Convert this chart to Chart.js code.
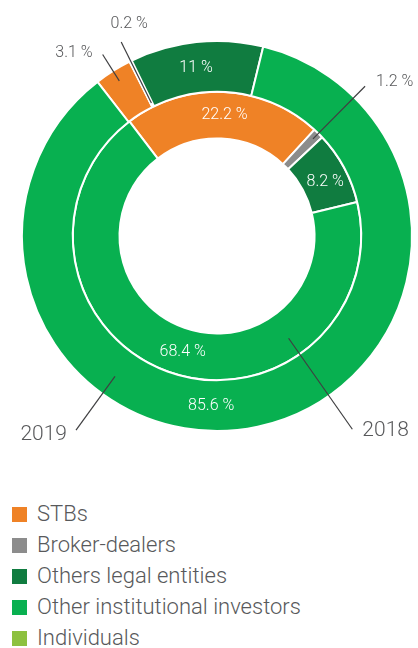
<!DOCTYPE html>
<html>
<head>
<meta charset="utf-8">
<script src="https://cdn.jsdelivr.net/npm/chart.js@4"></script>
<style>
  html, body { margin: 0; padding: 0; background: #fff; }
  body { width: 418px; height: 648px; position: relative; overflow: hidden; font-family: Roboto, 'Noto Sans', sans-serif; }
  #wrap { position: absolute; left: 0; top: 0; width: 418px; height: 470px; }
  #legend { position: absolute; left: 12px; top: 498px; margin: 0; padding: 0; list-style: none; }
  #legend li { height: 31px; line-height: 31px; font-size: 22px; font-weight: 300; color: #58595b; white-space: nowrap; }
  #legend span { display: inline-block; width: 15px; height: 15px; margin-right: 10px; vertical-align: -1px; }
</style>
</head>
<body>
<div id="wrap"><canvas id="ownershipChart"></canvas></div>
<ul id="legend"></ul>
<script>
const categories = ['STBs', 'Broker-dealers', 'Others legal entities', 'Other institutional investors', 'Individuals'];
const colors = ['#ef8226', '#8c8c8c', '#107c40', '#08b050', '#8dc13f'];
const years = ['2019', '2018'];
const shares2019 = [3.1, 0.2, 11, 85.6, 0];
const shares2018 = [22.2, 1.2, 8.2, 68.4, 0];

// segment labels drawn inside the rings (ring 0 = outer / 2019, ring 1 = inner / 2018)
const insideLabels = [
  { ring: 0, index: 2, shift: -1 },
  { ring: 0, index: 3, shift: 14 },
  { ring: 1, index: 0, shift: 1 },
  { ring: 1, index: 2, shift: 2 },
  { ring: 1, index: 3, shift: -3 },
];

// small segments get a radial leader line out of the ring
const calloutLabels = [
  { ring: 0, index: 0, from: 0.94, to: 1.10, dx: -10, dy: -2, align: 'right' },
  { ring: 0, index: 1, from: 0.76, to: 1.11, dx: 8, dy: -18, align: 'center' },
  { ring: 1, index: 1, from: 0.70, to: 1.08, dx: 11, dy: -4, align: 'left' },
];

// year captions, angle in degrees clockwise from the top
const yearLabels = [
  { text: years[0], angle: 216, from: 0.89, to: 1.23, dx: -9, dy: 5, align: 'right' },
  { text: years[1], angle: 145, from: 0.64, to: 1.21, dx: 10, dy: 1, align: 'left' },
];

function formatShare(value) {
  return `${value} %`;
}

function midAngle(arc) {
  return (arc.startAngle + arc.endAngle) / 2;
}

function drawLeader(ctx, cx, cy, angle, r0, r1, text, dx, dy, align, font) {
  ctx.strokeStyle = '#3f3f41';
  ctx.lineWidth = 1.2;
  ctx.beginPath();
  ctx.moveTo(cx + r0 * Math.cos(angle), cy + r0 * Math.sin(angle));
  const ex = cx + r1 * Math.cos(angle);
  const ey = cy + r1 * Math.sin(angle);
  ctx.lineTo(ex, ey);
  ctx.stroke();
  ctx.font = font;
  ctx.fillStyle = '#58595b';
  ctx.textAlign = align;
  ctx.textBaseline = 'middle';
  ctx.fillText(text, ex + dx, ey + dy);
}

const ringLabels = {
  id: 'ringLabels',
  afterDatasetsDraw(chart) {
    const ctx = chart.ctx;
    const outer = chart.getDatasetMeta(0).data;
    const cx = outer[0].x;
    const cy = outer[0].y;
    const radius = outer[0].outerRadius;
    ctx.save();

    ctx.font = '300 16px Roboto';
    ctx.fillStyle = '#ffffff';
    ctx.textAlign = 'center';
    ctx.textBaseline = 'middle';
    insideLabels.forEach(item => {
      const arc = chart.getDatasetMeta(item.ring).data[item.index];
      const angle = midAngle(arc) + item.shift * Math.PI / 180;
      const r = (arc.innerRadius + arc.outerRadius) / 2;
      const value = chart.data.datasets[item.ring].data[item.index];
      ctx.fillText(formatShare(value), cx + r * Math.cos(angle), cy + r * Math.sin(angle));
    });

    calloutLabels.forEach(item => {
      const arc = chart.getDatasetMeta(item.ring).data[item.index];
      const value = chart.data.datasets[item.ring].data[item.index];
      drawLeader(ctx, cx, cy, midAngle(arc), item.from * radius, item.to * radius,
        formatShare(value), item.dx, item.dy, item.align, '300 16px Roboto');
    });

    yearLabels.forEach(item => {
      const angle = (item.angle - 90) * Math.PI / 180;
      drawLeader(ctx, cx, cy, angle, item.from * radius, item.to * radius,
        item.text, item.dx, item.dy, item.align, '300 21px Roboto');
    });

    ctx.restore();
  },
};

const chart = new Chart(document.getElementById('ownershipChart').getContext('2d'), {
  type: 'doughnut',
  data: {
    labels: categories,
    datasets: [
      {
        label: years[0],
        data: shares2019,
        backgroundColor: colors,
        borderColor: '#ffffff',
        borderWidth: 2,
        rotation: -37.8,
        weight: 51,
      },
      {
        label: years[1],
        data: shares2018,
        backgroundColor: colors,
        borderColor: '#ffffff',
        borderWidth: 2,
        rotation: -37.4,
        weight: 47,
      },
    ],
  },
  options: {
    responsive: true,
    maintainAspectRatio: false,
    animation: false,
    cutout: '50%',
    layout: { padding: { left: 21, right: 5, top: 40, bottom: 38 } },
    events: [],
    plugins: {
      legend: { display: false },
      tooltip: { enabled: false },
    },
  },
  plugins: [ringLabels],
});

const legendList = document.getElementById('legend');
categories.forEach((name, index) => {
  const item = document.createElement('li');
  const box = document.createElement('span');
  box.style.background = colors[index];
  item.appendChild(box);
  item.appendChild(document.createTextNode(name));
  legendList.appendChild(item);
});
</script>
</body>
</html>
